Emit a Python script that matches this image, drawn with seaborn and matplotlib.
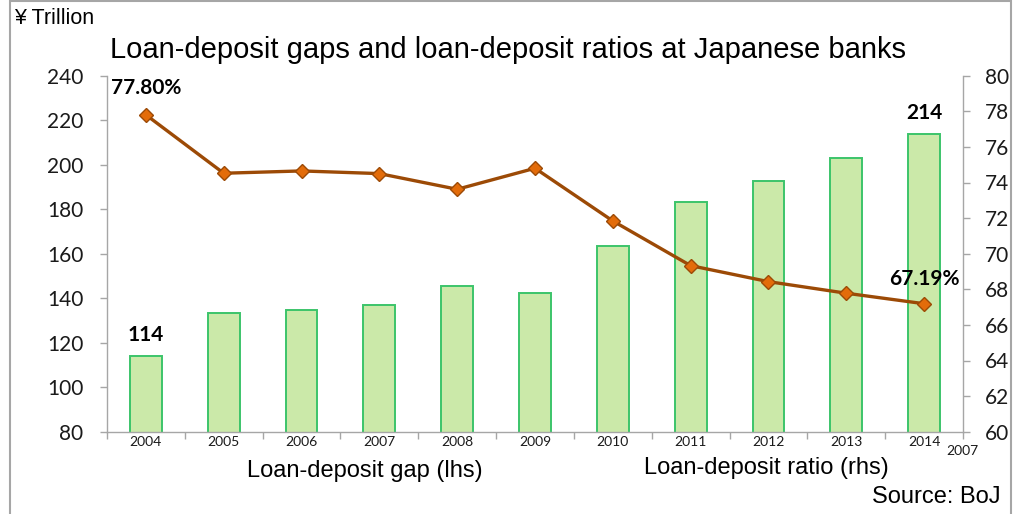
import numpy as np
import pandas as pd
import matplotlib
matplotlib.use("Agg")
import matplotlib.pyplot as plt
from matplotlib.patches import Rectangle
import seaborn as sns

# Data
years = ["2004", "2005", "2006", "2007", "2008", "2009", "2010", "2011", "2012", "2013", "2014"]
gap = [114, 133.3, 134.6, 136.8, 145.5, 142.5, 163.5, 183.1, 192.8, 203.1, 214]
ratio = [77.80, 74.52, 74.65, 74.50, 73.62, 74.80, 71.84, 69.33, 68.43, 67.78, 67.19]
left_ticks = [80, 100, 120, 140, 160, 180, 200, 220, 240]
right_ticks = [60, 62, 64, 66, 68, 70, 72, 74, 76, 78, 80]

df = pd.DataFrame({"year": years, "gap": gap, "ratio": ratio})

sns.set_style("white")
plt.rcParams["font.family"] = ["Liberation Sans", "DejaVu Sans"]

W, H = 1013, 514
fig = plt.figure(figsize=(W / 100, H / 100), dpi=100)

def fx(px):
    return px / W

def fy(py):
    return 1 - py / H

ax = fig.add_axes([fx(107), fy(431.7), fx(963) - fx(107), fy(75.7) - fy(431.7)])

GRAY = "#a6a6a6"
BAR_FACE = "#cbe9a9"
BAR_EDGE = "#3cc46a"
LINE = "#9c4a06"
MARK = "#e36c0a"

sns.barplot(data=df, x="year", y="gap", ax=ax, width=0.41, color=BAR_FACE,
            edgecolor=BAR_EDGE, linewidth=1.4, saturation=1, zorder=2)

ax2 = ax.twinx()
sns.pointplot(data=df, x="year", y="ratio", ax=ax2, color=LINE, markers="D",
              linestyles="-", markersize=7.5, linewidth=2.4,
              markerfacecolor=MARK, markeredgecolor=LINE, markeredgewidth=1.0)

ax.set_ylim(80, 240)
ax2.set_ylim(60, 80)
ax.set_xlim(-0.5, len(years) - 0.5)

for a in (ax, ax2):
    a.set_xlabel("")
    a.set_ylabel("")
    a.grid(False)
    for s in a.spines.values():
        s.set_color(GRAY)
        s.set_linewidth(1.0)
    a.spines["top"].set_visible(False)

ax.spines["right"].set_visible(False)
ax2.spines["left"].set_visible(False)
ax2.spines["bottom"].set_visible(False)

tick_font = dict(family=["Lato", "DejaVu Sans"], size=15, color="#1a1a1a")

ax.set_yticks(left_ticks)
ax.set_yticklabels([str(t) for t in left_ticks], fontdict=tick_font)
ax.tick_params(axis="y", left=True, direction="out", length=5, width=1.0,
               color=GRAY, pad=12)

ax2.set_yticks(right_ticks)
ax2.set_yticklabels([str(t) for t in right_ticks], fontdict=tick_font)
ax2.tick_params(axis="y", right=True, direction="out", length=5, width=1.0,
                color=GRAY, pad=11)

# Category boundaries get the tick marks, centres get the labels
n = len(years)
ax.set_xticks(np.arange(-0.5, n, 1.0))
ax.set_xticklabels([""] * (n + 1))
ax.set_xticks(np.arange(n), minor=True)
ax.set_xticklabels(years, minor=True, family=["Lato", "DejaVu Sans"], size=10,
                   color="#1a1a1a")
ax.tick_params(axis="x", which="major", bottom=True, direction="out", length=5,
               width=1.0, color=GRAY)
ax.tick_params(axis="x", which="minor", bottom=True, length=0, pad=3)

# Value labels
lab_font = dict(family=["Lato", "DejaVu Sans"], size=15, weight="bold", color="black")
ax.annotate(f"{gap[0]:.0f}", (0, gap[0]), xytext=(0, 15), textcoords="offset points",
            ha="center", va="center", **lab_font)
ax.annotate(f"{gap[-1]:.0f}", (n - 1, gap[-1]), xytext=(0, 15), textcoords="offset points",
            ha="center", va="center", **lab_font)
ax2.annotate(f"{ratio[0]:.2f}%", (0, ratio[0]), xytext=(0, 19), textcoords="offset points",
             ha="center", va="center", **lab_font)
ax2.annotate(f"{ratio[-1]:.2f}%", (n - 1, ratio[-1]), xytext=(0, 18), textcoords="offset points",
             ha="center", va="center", **lab_font)

# Titles and captions
fig.text(fx(14), fy(18), "¥ Trillion", ha="left", va="center", fontsize=15.5, color="black")
fig.text(fx(508), fy(50), "Loan-deposit gaps and loan-deposit ratios at Japanese banks",
         ha="center", va="center", fontsize=21, color="black")
fig.text(fx(365), fy(471), "Loan-deposit gap (lhs)", ha="center", va="center",
         fontsize=17, color="black")
fig.text(fx(766), fy(468), "Loan-deposit ratio (rhs)", ha="center", va="center",
         fontsize=17, color="black")
fig.text(fx(1000), fy(497), "Source: BoJ", ha="right", va="center",
         fontsize=17, color="black")
fig.text(fx(962), fy(451), "2007", ha="center", va="center",
         family=["Lato", "DejaVu Sans"], fontsize=10, color="#1a1a1a")

# Outer frame
fig.patches.append(Rectangle((fx(10), -0.05), fx(1011) - fx(10), fy(1) + 0.05,
                             transform=fig.transFigure, fill=False,
                             edgecolor=GRAY, linewidth=1.5))

fig.savefig("out.png", dpi=100)
